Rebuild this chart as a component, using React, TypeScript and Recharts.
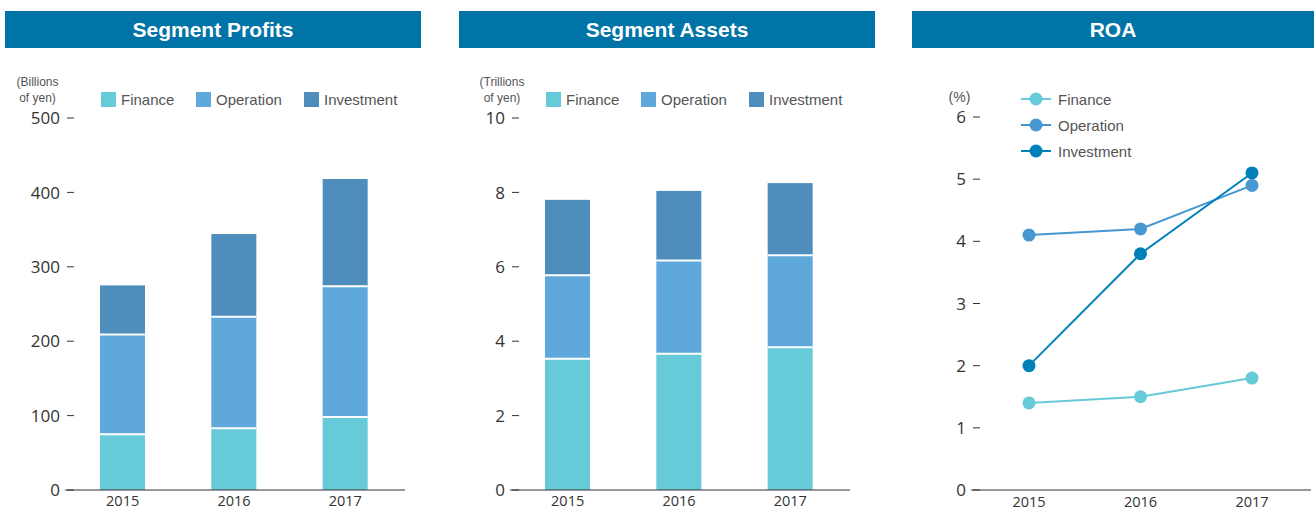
import React from "react";
import { BarChart, Bar, LineChart, Line, XAxis, YAxis } from "recharts";

/* ---------------- DATA ---------------- */
const years = ["2015", "2016", "2017"];

const profitFinance = [75, 83, 98];
const profitOperation = [134, 150, 176];
const profitInvestment = [66, 111, 144];
const profitTicks = [0, 100, 200, 300, 400, 500];

const assetFinance = [3.53, 3.66, 3.84];
const assetOperation = [2.24, 2.51, 2.47];
const assetInvestment = [2.03, 1.87, 1.94];
const assetTicks = [0, 2, 4, 6, 8, 10];

const roaFinance = [1.4, 1.5, 1.8];
const roaOperation = [4.1, 4.2, 4.9];
const roaInvestment = [2.0, 3.8, 5.1];
const roaTicks = [0, 1, 2, 3, 4, 5, 6];

const seriesNames = ["Finance", "Operation", "Investment"];
const BAR_COLORS = ["#66cad9", "#5ea8dc", "#4f8dbd"];
const LINE_COLORS = ["#66cad9", "#4797d3", "#0080b9"];
const HEADER = "#0074a6";

const profitData = years.map((y, i) => ({
  year: y,
  finance: profitFinance[i],
  operation: profitOperation[i],
  investment: profitInvestment[i],
}));
const assetData = years.map((y, i) => ({
  year: y,
  finance: assetFinance[i],
  operation: assetOperation[i],
  investment: assetInvestment[i],
}));
const roaData = years.map((y, i) => ({
  year: y,
  finance: roaFinance[i],
  operation: roaOperation[i],
  investment: roaInvestment[i],
}));

const NUM_FONT = "'Open Sans', 'DejaVu Sans', sans-serif";
const TEXT_FONT = "'Liberation Sans', Arial, sans-serif";
const PLOT_LEFT = 65;

/* ---------------- TICKS / SHAPES ---------------- */
function YTick(props: any) {
  const { y, payload } = props;
  return (
    <g>
      <text
        x={PLOT_LEFT - 5}
        y={y}
        dy="0.36em"
        textAnchor="end"
        fontSize={17}
        fontFamily={NUM_FONT}
        fill="#333"
      >
        {payload.value}
      </text>
      <line x1={PLOT_LEFT + 2} x2={PLOT_LEFT + 9} y1={y} y2={y} stroke="#333" strokeWidth={1} />
    </g>
  );
}

function makeXTick(baseline: number) {
  return (props: any) => (
    <text
      x={props.x}
      y={baseline}
      textAnchor="middle"
      fontSize={14.5}
      fontFamily={NUM_FONT}
      fill="#333"
    >
      {props.payload.value}
    </text>
  );
}

function SegShape(props: any) {
  const { x, y, width, height, fill } = props;
  if (!height) return null;
  return (
    <g>
      <rect x={x} y={y} width={width} height={height} fill={fill} />
      <line x1={x} x2={x + width} y1={y + height} y2={y + height} stroke="#fff" strokeWidth={2} />
    </g>
  );
}

/* ---------------- UI HELPERS ---------------- */
function Header({ title, left, width }: { title: string; left: number; width: number }) {
  return (
    <div
      style={{
        position: "absolute",
        left,
        top: 11,
        width,
        height: 37,
        lineHeight: "38px",
        background: HEADER,
        color: "#fff",
        fontFamily: TEXT_FONT,
        fontWeight: 700,
        fontSize: 21,
        textAlign: "center",
      }}
    >
      {title}
    </div>
  );
}

function Unit({ lines, center, top, size = 12 }: { lines: string[]; center: number; top: number; size?: number }) {
  return (
    <div
      style={{
        position: "absolute",
        left: center - 40,
        width: 80,
        top,
        textAlign: "center",
        fontFamily: TEXT_FONT,
        fontSize: size,
        lineHeight: "16px",
        color: "#555",
      }}
    >
      {lines.map((l) => (
        <div key={l}>{l}</div>
      ))}
    </div>
  );
}

function SquareLegend({ xs, top }: { xs: number[]; top: number }) {
  return (
    <>
      {seriesNames.map((name, i) => (
        <div
          key={name}
          style={{
            position: "absolute",
            left: xs[i],
            top,
            height: 16,
            display: "flex",
            alignItems: "center",
            fontFamily: TEXT_FONT,
            fontSize: 15,
            color: "#555",
            whiteSpace: "nowrap",
          }}
        >
          <span style={{ width: 15, height: 15, background: BAR_COLORS[i], marginRight: 5 }} />
          {name}
        </div>
      ))}
    </>
  );
}

function LineLegend({ left, ys }: { left: number; ys: number[] }) {
  return (
    <>
      {seriesNames.map((name, i) => (
        <div
          key={name}
          style={{
            position: "absolute",
            left,
            top: ys[i] - 10,
            height: 20,
            display: "flex",
            alignItems: "center",
            fontFamily: TEXT_FONT,
            fontSize: 15,
            color: "#555",
            whiteSpace: "nowrap",
          }}
        >
          <svg width={30} height={20} style={{ marginRight: 7 }}>
            <line x1={0} x2={30} y1={10} y2={10} stroke={LINE_COLORS[i]} strokeWidth={2} />
            <circle cx={15} cy={10} r={6.5} fill={LINE_COLORS[i]} />
          </svg>
          {name}
        </div>
      ))}
    </>
  );
}

function StackedPanel({ data, ticks, left }: { data: any[]; ticks: number[]; left: number }) {
  return (
    <div style={{ position: "absolute", left, top: 0 }}>
      <BarChart width={420} height={512} data={data} margin={{ top: 118, right: 15, left: 0, bottom: 0 }}>
        <XAxis
          dataKey="year"
          height={22}
          axisLine={{ stroke: "#333", strokeWidth: 1 }}
          tickLine={false}
          padding={{ left: 2, right: 4 }}
          tick={makeXTick(506)}
        />
        <YAxis
          width={PLOT_LEFT}
          domain={[0, ticks[ticks.length - 1]]}
          ticks={ticks}
          interval={0}
          axisLine={false}
          tickLine={false}
          tick={YTick}
        />
        <Bar dataKey="finance" stackId="a" barSize={45} fill={BAR_COLORS[0]} isAnimationActive={false} />
        <Bar dataKey="operation" stackId="a" barSize={45} fill={BAR_COLORS[1]} shape={SegShape} isAnimationActive={false} />
        <Bar dataKey="investment" stackId="a" barSize={45} fill={BAR_COLORS[2]} shape={SegShape} isAnimationActive={false} />
      </BarChart>
    </div>
  );
}

export default function App() {
  return (
    <div style={{ position: "absolute", left: 0, top: 0, width: 1314, height: 512, background: "#fff", overflow: "hidden" }}>
      <Header title="Segment Profits" left={5} width={416} />
      <Header title="Segment Assets" left={459} width={416} />
      <Header title="ROA" left={912} width={402} />

      <StackedPanel data={profitData} ticks={profitTicks} left={0} />
      <StackedPanel data={assetData} ticks={assetTicks} left={445} />

      <div style={{ position: "absolute", left: 906, top: 0 }}>
        <LineChart width={408} height={512} data={roaData} margin={{ top: 117, right: 3, left: 0, bottom: 0 }}>
          <XAxis
            dataKey="year"
            height={22}
            axisLine={{ stroke: "#333", strokeWidth: 1 }}
            tickLine={false}
            padding={{ left: 58, right: 59 }}
            tick={makeXTick(507)}
          />
          <YAxis
            width={PLOT_LEFT}
            domain={[0, 6]}
            ticks={roaTicks}
            interval={0}
            axisLine={false}
            tickLine={false}
            tick={YTick}
          />
          {["finance", "operation", "investment"].map((k, i) => (
            <Line
              key={k}
              dataKey={k}
              type="linear"
              stroke={LINE_COLORS[i]}
              strokeWidth={2}
              dot={{ r: 6.5, fill: LINE_COLORS[i], stroke: "none" }}
              activeDot={false}
              isAnimationActive={false}
            />
          ))}
        </LineChart>
      </div>

      <Unit lines={["(Billions", "of yen)"]} center={37.5} top={74} />
      <Unit lines={["(Trillions", "of yen)"]} center={502} top={74} />
      <Unit lines={["(%)"]} center={959.5} top={89} size={14} />

      <SquareLegend xs={[101, 196, 304]} top={91} />
      <SquareLegend xs={[546, 641, 749]} top={91} />
      <LineLegend left={1021} ys={[99, 125, 151]} />
    </div>
  );
}
